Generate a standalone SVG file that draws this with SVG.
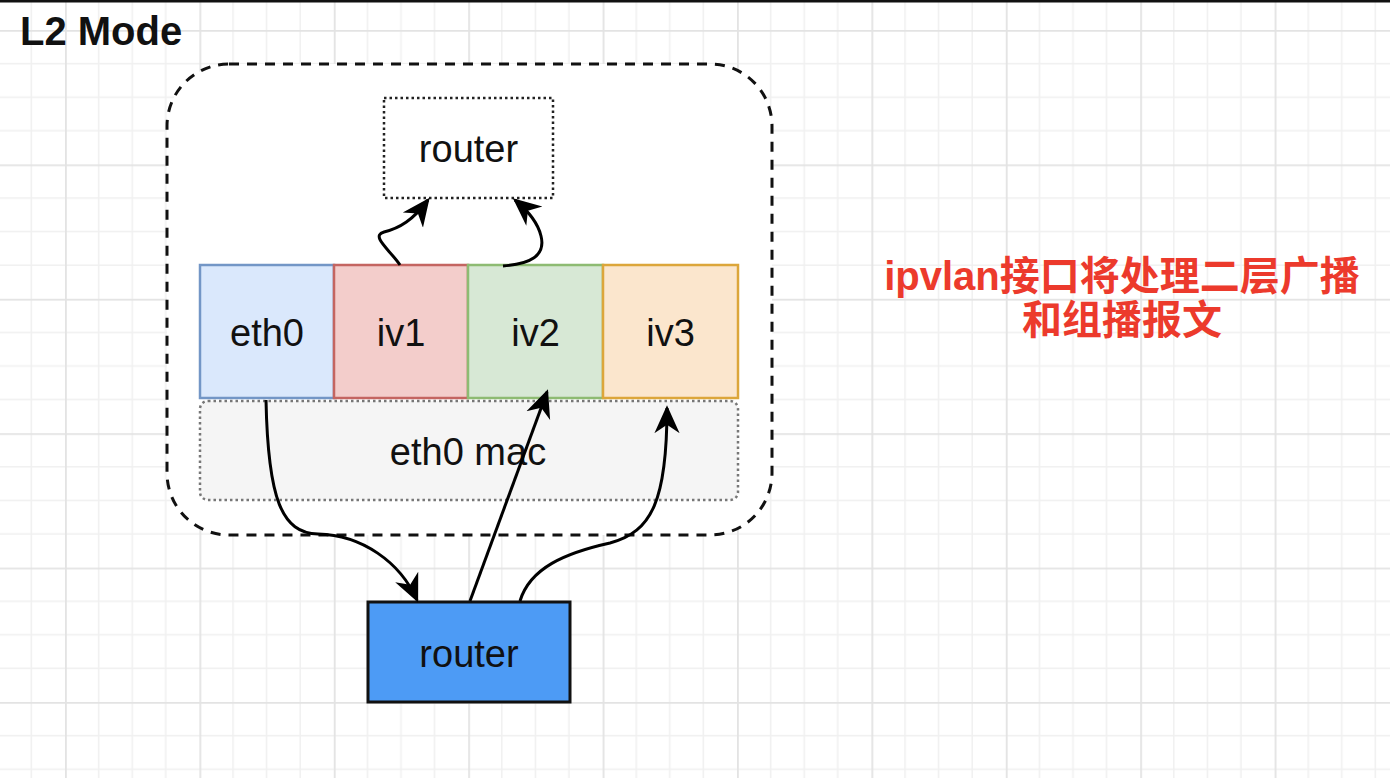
<svg xmlns="http://www.w3.org/2000/svg" width="1390" height="778" viewBox="0 0 1390 778">
  <defs>
    <pattern id="grid" patternUnits="userSpaceOnUse" x="65" y="30" width="134.4" height="134.4">
      <g stroke="#f0f0f0" stroke-width="1.5" fill="none">
        <line x1="33.6" y1="0" x2="33.6" y2="134.4"/>
        <line x1="67.2" y1="0" x2="67.2" y2="134.4"/>
        <line x1="100.8" y1="0" x2="100.8" y2="134.4"/>
        <line x1="0" y1="33.6" x2="134.4" y2="33.6"/>
        <line x1="0" y1="67.2" x2="134.4" y2="67.2"/>
        <line x1="0" y1="100.8" x2="134.4" y2="100.8"/>
      </g>
      <g stroke="#e3e3e3" stroke-width="1.8" fill="none">
        <line x1="0.9" y1="0" x2="0.9" y2="134.4"/>
        <line x1="0" y1="0.9" x2="134.4" y2="0.9"/>
      </g>
    </pattern>
    <marker id="arrow" viewBox="0 0 10 10" refX="9" refY="5" markerWidth="28" markerHeight="28" markerUnits="userSpaceOnUse" orient="auto">
      <path d="M0,0.5 L10,5 L0,9.5 L3,5 z" fill="#000"/>
    </marker>
    <style>
      .lbl { font-family: "Liberation Sans", Arial, sans-serif; font-size: 38px; fill: #111; text-anchor: middle; }
      .title { font-family: "Liberation Sans", Arial, sans-serif; font-size: 40px; font-weight: bold; fill: #111; }
      .note { font-family: "Liberation Sans", "Noto Sans CJK SC", sans-serif; font-size: 40px; font-weight: bold; fill: #ec3a2c; text-anchor: middle; }
      .edge { fill: none; stroke: #000; stroke-width: 3; marker-end: url(#arrow); }
      .iface { stroke-width: 2.5; }
    </style>
  </defs>

  <rect x="0" y="0" width="1390" height="778" fill="#ffffff"/>
  <rect x="0" y="0" width="1390" height="778" fill="url(#grid)"/>
  <rect x="0" y="0" width="1390" height="2.5" fill="#111"/>

  <text class="title" x="20" y="45">L2 Mode</text>

  <g id="container">
    <rect x="167" y="64" width="605" height="471" rx="62" ry="62" fill="#ffffff" stroke="#111" stroke-width="3" stroke-dasharray="10 8"/>
  </g>

  <g id="router-top">
    <rect x="384" y="98" width="169" height="100" fill="#ffffff" stroke="#222" stroke-width="2.5" stroke-dasharray="2.5 3"/>
    <text class="lbl" x="468.5" y="162">router</text>
  </g>

  <g id="eth0-mac">
    <rect x="200" y="401" width="538" height="99" rx="8" ry="8" fill="#f5f5f5" stroke="#777" stroke-width="2.5" stroke-dasharray="2.5 3"/>
    <text class="lbl" x="468" y="465">eth0 mac</text>
  </g>

  <g id="eth0">
    <rect class="iface" x="200" y="265" width="134" height="133" fill="#dae8fc" stroke="#7396c6"/>
    <text class="lbl" x="267" y="346">eth0</text>
  </g>
  <g id="iv1">
    <rect class="iface" x="334" y="265" width="134" height="133" fill="#f3cdcb" stroke="#c46561"/>
    <text class="lbl" x="401" y="346">iv1</text>
  </g>
  <g id="iv2">
    <rect class="iface" x="468" y="265" width="135" height="133" fill="#d7e8d5" stroke="#8dbb72"/>
    <text class="lbl" x="535.5" y="346">iv2</text>
  </g>
  <g id="iv3">
    <rect class="iface" x="603" y="265" width="135" height="133" fill="#fbe6cd" stroke="#dca63a"/>
    <text class="lbl" x="670.5" y="346">iv3</text>
  </g>

  <g id="router-bottom">
    <rect x="368" y="602" width="202" height="100" fill="#4d9bf5" stroke="#111" stroke-width="3"/>
    <text class="lbl" x="469" y="667">router</text>
  </g>

  <g id="connectors">
    <path class="edge" d="M 266 400 C 268 500, 282 533, 318 534 C 362 535, 400 562, 417 600"/>
    <path class="edge" d="M 470 601 L 547 392"/>
    <path class="edge" d="M 520 601 C 530 568, 565 553, 610 543 C 652 532, 667 500, 667 408"/>
    <path class="edge" d="M 400 265 C 390 250, 370 236, 384 232 C 400 228, 413 220, 428 200"/>
    <path class="edge" d="M 503 266 C 530 264, 546 256, 541 236 C 538 223, 527 210, 515 200"/>
  </g>

  <g id="note">
    <text class="note" x="1122" y="290">ipvlan接口将处理二层广播</text>
    <text class="note" x="1122" y="334">和组播报文</text>
  </g>
</svg>
